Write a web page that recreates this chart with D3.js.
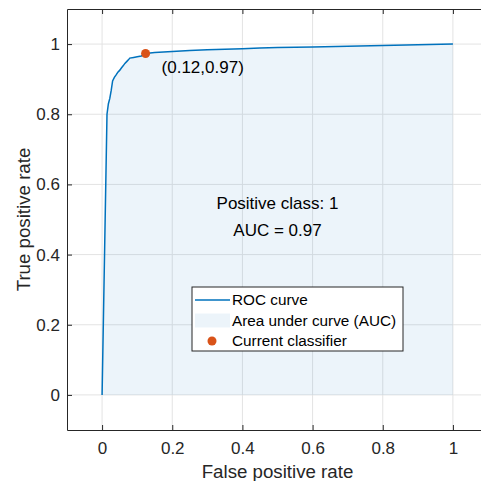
<!DOCTYPE html>
<html>
<head>
<meta charset="utf-8">
<script src="https://cdn.jsdelivr.net/npm/d3@7"></script>
<style>
  body { margin: 0; background: #fff; }
  svg { display: block; font-family: "Liberation Sans", Arial, sans-serif; }
</style>
</head>
<body>
<svg id="chart"></svg>
<script>
var width = 481,
    height = 481;

// ROC curve
var fpr = [0, 0.014, 0.018, 0.022, 0.026, 0.030, 0.035, 0.040, 0.045, 0.050, 0.055, 0.060, 0.065,
           0.070, 0.075, 0.079, 0.090, 0.100, 0.112, 0.124, 0.150, 0.200, 0.250, 0.300, 0.400,
           0.450, 0.500, 0.600, 0.700, 0.800, 0.900, 1.000];
var tpr = [0, 0.800, 0.830, 0.845, 0.868, 0.895, 0.905, 0.912, 0.920, 0.925, 0.932, 0.938, 0.945,
           0.950, 0.955, 0.960, 0.962, 0.964, 0.966, 0.973, 0.976, 0.979, 0.982, 0.984, 0.987,
           0.989, 0.990, 0.992, 0.994, 0.996, 0.998, 1.000];

var current = [0.124, 0.973];
var auc = 0.97;
var positiveClass = 1;

var xTicks = [0, 0.2, 0.4, 0.6, 0.8, 1],
    yTicks = [0, 0.2, 0.4, 0.6, 0.8, 1];

var legendLabels = ["ROC curve", "Area under curve (AUC)", "Current classifier"];

var blue = "#0072BD",
    orange = "#D95319",
    axisColor = "#262626",
    gridColor = "#e3e3e3";

var fontSize = 17,
    labelSize = 18.7,
    legendSize = 15.3;

var margin = {left: 67, top: 9, right: -7, bottom: 51};

var svg = d3.select("#chart").attr("width", width).attr("height", height);

var x = d3.scaleLinear().domain([-0.1, 1.1]).range([margin.left, width - margin.right]);
var y = d3.scaleLinear().domain([-0.1, 1.1]).range([height - margin.bottom, margin.top]);

var points = fpr.map(function(d, i) { return [d, tpr[i]]; });

// grid
svg.append("g").selectAll("line").data(xTicks).enter().append("line")
    .attr("x1", function(d) { return x(d); }).attr("x2", function(d) { return x(d); })
    .attr("y1", y.range()[0]).attr("y2", y.range()[1])
    .attr("stroke", gridColor).attr("stroke-width", 1);
svg.append("g").selectAll("line").data(yTicks).enter().append("line")
    .attr("y1", function(d) { return y(d); }).attr("y2", function(d) { return y(d); })
    .attr("x1", x.range()[0]).attr("x2", x.range()[1])
    .attr("stroke", gridColor).attr("stroke-width", 1);

// area under curve
var area = d3.area()
    .x(function(d) { return x(d[0]); })
    .y0(y(0))
    .y1(function(d) { return y(d[1]); });

svg.append("path").datum(points)
    .attr("d", area)
    .attr("fill", blue)
    .attr("fill-opacity", 0.075);

var line = d3.line()
    .x(function(d) { return x(d[0]); })
    .y(function(d) { return y(d[1]); });

svg.append("path").datum(points)
    .attr("d", line)
    .attr("fill", "none")
    .attr("stroke", blue)
    .attr("stroke-width", 1.5);

// current classifier
svg.append("circle")
    .attr("cx", x(current[0])).attr("cy", y(current[1]))
    .attr("r", 4.5).attr("fill", orange);

svg.append("text")
    .attr("x", x(current[0]) + 16).attr("y", y(current[1]) + 19)
    .attr("font-size", fontSize).attr("fill", "#000")
    .text("(" + d3.format(".2f")(current[0]) + "," + d3.format(".2f")(current[1]) + ")");

// annotation
svg.append("text")
    .attr("x", x(0.5)).attr("y", 209)
    .attr("text-anchor", "middle").attr("font-size", fontSize)
    .text("Positive class: " + positiveClass);
svg.append("text")
    .attr("x", x(0.5)).attr("y", 235.5)
    .attr("text-anchor", "middle").attr("font-size", fontSize)
    .text("AUC = " + d3.format(".2f")(auc));

// axes (ticks point inward, box on)
var xAxis = d3.axisBottom(x).tickValues(xTicks).tickFormat(d3.format("~g")).tickSizeInner(-5).tickSizeOuter(0).tickPadding(12);
var yAxis = d3.axisLeft(y).tickValues(yTicks).tickFormat(d3.format("~g")).tickSizeInner(-5).tickSizeOuter(0).tickPadding(7);
var xTop = d3.axisTop(x).tickValues(xTicks).tickFormat("").tickSizeInner(-5).tickSizeOuter(0);

function styleAxis(g) {
    g.select(".domain").attr("stroke", axisColor);
    g.selectAll(".tick line").attr("stroke", axisColor);
    g.selectAll(".tick text").attr("fill", axisColor).attr("font-size", fontSize)
        .attr("font-family", "Liberation Sans, Arial, sans-serif");
}

svg.append("g").attr("transform", "translate(0," + y.range()[0] + ")").call(xAxis).call(styleAxis);
svg.append("g").attr("transform", "translate(" + x.range()[0] + ",0)").call(yAxis).call(styleAxis);
svg.append("g").attr("transform", "translate(0," + y.range()[1] + ")").call(xTop).call(styleAxis);

// axis labels
svg.append("text")
    .attr("x", x(0.5)).attr("y", 478)
    .attr("text-anchor", "middle").attr("font-size", labelSize).attr("fill", axisColor)
    .text("False positive rate");
svg.append("text")
    .attr("transform", "translate(30," + y(0.5) + ") rotate(-90)")
    .attr("text-anchor", "middle").attr("font-size", labelSize).attr("fill", axisColor)
    .text("True positive rate");

// legend
var legend = svg.append("g").attr("transform", "translate(192,287)");
legend.append("rect")
    .attr("width", 211).attr("height", 64)
    .attr("fill", "#fff").attr("stroke", axisColor).attr("stroke-width", 1);

var rows = legend.selectAll("g.row").data(legendLabels).enter().append("g")
    .attr("class", "row")
    .attr("transform", function(d, i) { return "translate(0," + (13 + i * 20.5) + ")"; });

rows.append("text")
    .attr("x", 40).attr("dy", "0.35em")
    .attr("font-size", legendSize).attr("fill", "#000")
    .text(function(d) { return d; });

rows.filter(function(d, i) { return i === 0; }).append("line")
    .attr("x1", 3).attr("x2", 38).attr("stroke", blue).attr("stroke-width", 1.5);
rows.filter(function(d, i) { return i === 1; }).append("rect")
    .attr("x", 3).attr("y", -7).attr("width", 35).attr("height", 14)
    .attr("fill", blue).attr("fill-opacity", 0.075);
rows.filter(function(d, i) { return i === 2; }).append("circle")
    .attr("cx", 20).attr("r", 4.5).attr("fill", orange);
</script>
</body>
</html>
